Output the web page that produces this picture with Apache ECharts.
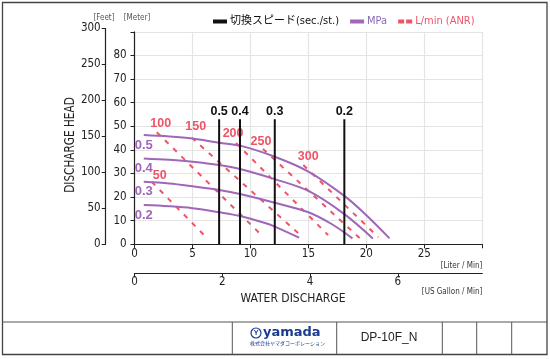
<!DOCTYPE html>
<html><head><meta charset="utf-8">
<script src="https://cdn.jsdelivr.net/npm/echarts@6/dist/echarts.min.js"></script>
<style>html,body{margin:0;padding:0;background:#fff}#c{width:550px;height:359px}</style>
</head><body><div id="c"></div>
<script>
// ---------- data ----------
const xTicksLiter = [0, 5, 10, 15, 20, 25];
const xTicksGallon = [0, 2, 4, 6];
const yTicksMeter = [0, 10, 20, 30, 40, 50, 60, 70, 80];
const yTicksFeet = [0, 50, 100, 150, 200, 250, 300];

const pressureLabels = ['0.5', '0.4', '0.3', '0.2'];
const curve05 = [[0.8,46.3],[3,45.7],[5,44.8],[7.3,43.0],[9.1,41.8],[12.1,37.1],[15,30.8],[18.1,20.5],[20,12.3],[22,2.5]];
const curve04 = [[0.8,36.4],[3,35.8],[5,35.0],[7.3,33.6],[9.1,31.9],[12.1,27.6],[15,22.6],[18.1,12.8],[20.55,2.5]];
const curve03 = [[0.8,26.5],[3,25.8],[5,24.6],[7.3,23.0],[9.1,21.3],[12.1,17.6],[15,13.6],[17,8.6],[18.8,2.5]];
const curve02 = [[0.8,16.6],[3,16.1],[5,15.3],[7.3,13.6],[9.1,12.0],[11.4,8.8],[12.1,7.5],[14.2,2.8]];

const switchLabels = ['0.5', '0.4', '0.3', '0.2'];
const switchFlow = [7.3, 9.1, 12.1, 18.1];
const switchTop = 53;

const airLabels = ['50', '100', '150', '200', '250', '300'];
const air50  = [[1.48,26.5],[6.08,3.5]];
const air100 = [[1.92,47.5],[11.1,3.2]];
const air150 = [[4.93,45.2],[14.47,3.2]];
const air200 = [[8.76,42.9],[16.7,3.9]];
const air250 = [[11.08,40.4],[19.45,2.5]];
const air300 = [[14.56,33.6],[21.03,3.0]];

// ---------- style ----------
const purple = '#a066b8';
const red = '#ee5468';
const ink = '#222';
const cond = "'DejaVu Sans Condensed','Noto Sans CJK JP',sans-serif";
const airLabelOffsets = [[8,-6],[4,-9],[4,-11],[-3,-10],[-2,-7],[5,-8]];

const series = [];
[curve05, curve04, curve03, curve02].forEach((c, i) => {
  series.push({
    type: 'line', name: 'MPa', smooth: 0.35, symbol: 'circle', symbolSize: 0, showSymbol: true,
    silent: true, z: 3,
    lineStyle: { color: purple, width: 2 }, itemStyle: { color: purple },
    label: { show: false },
    data: c.map((p, j) => j === 0 ? {
      value: p,
      label: { show: true, formatter: pressureLabels[i], position: 'inside', offset: [0, 10],
        color: purple, fontSize: 13, fontWeight: 'bold', fontFamily: 'Liberation Sans' }
    } : p)
  });
});
[air50, air100, air150, air200, air250, air300].forEach((a, i) => {
  series.push({
    type: 'line', name: 'L/min (ANR)', symbol: 'circle', symbolSize: 0, showSymbol: true,
    silent: true, z: 2,
    lineStyle: { color: red, width: 2, type: [5, 6.5] }, itemStyle: { color: red },
    label: { show: false },
    data: a.map((p, j) => j === 0 ? {
      value: p,
      label: { show: true, formatter: airLabels[i], position: 'inside', offset: airLabelOffsets[i],
        color: red, fontSize: 12.5, fontWeight: 'bold', fontFamily: 'Liberation Sans' }
    } : p)
  });
});
switchFlow.forEach((x, i) => {
  series.push({
    type: 'line', name: '切換スピード(sec./st.)', symbol: 'circle', symbolSize: 0, showSymbol: true,
    silent: true, z: 4,
    lineStyle: { color: '#111', width: 2 }, itemStyle: { color: '#111' },
    label: { show: false },
    data: [[x, 0], {
      value: [x, switchTop],
      label: { show: true, formatter: switchLabels[i], position: 'inside', offset: [0, -8],
        color: '#111', fontSize: 12.5, fontWeight: 'bold', fontFamily: 'Liberation Sans' }
    }]
  });
});

const chart = echarts.init(document.getElementById('c'), null, { renderer: 'canvas' });
const axisLabelBase = { color: ink, fontSize: 11.5, fontFamily: cond };
chart.setOption({
  animation: false,
  backgroundColor: '#fff',
  grid: [
    { left: 134.5, right: 67.7, top: 31.9, bottom: 114.7, containLabel: false, outerBoundsMode: 'none' },
    { left: 105.7, width: 10, top: 28.5, height: 215.8, containLabel: false, outerBoundsMode: 'none' }
  ],
  legend: {
    left: 208, top: 11, itemWidth: 14, itemHeight: 4, itemGap: 11,
    textStyle: { fontSize: 11, fontFamily: cond, padding: [0, 0, 0, -2] },
    selectedMode: false,
    data: [
      { name: '切換スピード(sec./st.)', icon: 'rect', itemStyle: { color: '#111' }, textStyle: { color: '#111' } },
      { name: 'MPa', icon: 'rect', itemStyle: { color: purple }, textStyle: { color: '#8a6bb5' } },
      { name: 'L/min (ANR)', icon: 'path://M0,0h6v4h-6z M8,0h6v4h-6z', itemStyle: { color: red }, textStyle: { color: red } }
    ]
  },
  xAxis: [
    { type: 'value', gridIndex: 0, min: 0, max: 30, interval: 5,
      axisLine: { show: true, lineStyle: { color: ink, width: 1.2 } },
      axisTick: { show: true, length: 4, lineStyle: { color: ink } },
      axisLabel: Object.assign({}, axisLabelBase, { margin: 4,
        formatter: v => xTicksLiter.includes(v) ? String(v) : '' }),
      splitLine: { show: true, lineStyle: { color: '#e4e4e4', width: 1.2 } } },
    { type: 'value', gridIndex: 1, min: 0, max: 1, show: false },
    { type: 'value', gridIndex: 0, position: 'bottom', offset: 29, min: 0, max: 30 / 3.78541, interval: 2,
      axisLine: { show: true, lineStyle: { color: ink, width: 1.2 } },
      axisTick: { show: true, length: 4, lineStyle: { color: ink } },
      axisLabel: Object.assign({}, axisLabelBase, { margin: 3, showMaxLabel: false,
        formatter: v => xTicksGallon.includes(v) ? String(v) : '' }),
      splitLine: { show: false } }
  ],
  yAxis: [
    { type: 'value', gridIndex: 0, min: 0, max: 90, interval: 10, offset: 2.8,
      axisLine: { show: true, lineStyle: { color: ink, width: 1.2 } },
      axisTick: { show: true, length: 4, lineStyle: { color: ink } },
      axisLabel: Object.assign({}, axisLabelBase, { margin: 5,
        formatter: v => yTicksMeter.includes(v) ? String(v) : '' }),
      splitLine: { show: true, lineStyle: { color: '#e4e4e4', width: 1.2 } } },
    { type: 'value', gridIndex: 1, min: 0, max: 300, interval: 50,
      axisLine: { show: true, lineStyle: { color: ink, width: 1.2 } },
      axisTick: { show: true, length: 4, lineStyle: { color: ink } },
      axisLabel: Object.assign({}, axisLabelBase, { margin: 5,
        formatter: v => yTicksFeet.includes(v) ? String(v) : '' }),
      splitLine: { show: false } }
  ],
  series: series.concat([{ type: 'line', xAxisIndex: 1, yAxisIndex: 1, data: [], silent: true }]),
  graphic: [
    { type: 'rect', shape: { x: 2.5, y: 2.5, width: 544.5, height: 352 }, style: { fill: 'none', stroke: '#444', lineWidth: 1.3 }, silent: true },
    { type: 'line', shape: { x1: 2.5, y1: 322, x2: 547, y2: 322 }, style: { stroke: '#555', lineWidth: 1.2 }, silent: true },
    { type: 'line', shape: { x1: 232.3, y1: 322, x2: 232.3, y2: 354.5 }, style: { stroke: '#555', lineWidth: 1 }, silent: true },
    { type: 'line', shape: { x1: 336.7, y1: 322, x2: 336.7, y2: 354.5 }, style: { stroke: '#555', lineWidth: 1 }, silent: true },
    { type: 'line', shape: { x1: 442.3, y1: 322, x2: 442.3, y2: 354.5 }, style: { stroke: '#555', lineWidth: 1 }, silent: true },
    { type: 'line', shape: { x1: 476.7, y1: 322, x2: 476.7, y2: 354.5 }, style: { stroke: '#555', lineWidth: 1 }, silent: true },
    { type: 'line', shape: { x1: 511.7, y1: 322, x2: 511.7, y2: 354.5 }, style: { stroke: '#555', lineWidth: 1 }, silent: true },
    { type: 'text', x: 389, y: 337.5, style: { text: 'DP-10F_N', fill: '#222', font: "12px 'Liberation Sans'", textAlign: 'center', textVerticalAlign: 'middle' }, silent: true },
    { type: 'circle', shape: { cx: 256, cy: 333, r: 5 }, style: { fill: 'none', stroke: '#1b3c8e', lineWidth: 1.2 }, silent: true },
    { type: 'text', x: 256, y: 333.5, style: { text: 'Y', fill: '#1b3c8e', font: "bold 7px 'Liberation Sans'", textAlign: 'center', textVerticalAlign: 'middle' }, silent: true },
    { type: 'text', x: 263, y: 333, style: { text: 'yamada', fill: '#1b3c8e', font: "bold 13px 'DejaVu Sans'", textAlign: 'left', textVerticalAlign: 'middle' }, silent: true },
    { type: 'text', x: 250, y: 343.5, style: { text: '株式会社ヤマダコーポレーション', fill: '#1b3c8e', font: "5px 'Noto Sans CJK JP'", textAlign: 'left', textVerticalAlign: 'middle' }, silent: true },
    { type: 'text', x: 104, y: 18, style: { text: '[Feet]', fill: '#555', font: "8px " + cond, textAlign: 'center', textVerticalAlign: 'middle' }, silent: true },
    { type: 'text', x: 137, y: 18, style: { text: '[Meter]', fill: '#555', font: "8px " + cond, textAlign: 'center', textVerticalAlign: 'middle' }, silent: true },
    { type: 'text', x: 70, y: 145, rotation: Math.PI / 2, scaleX: 0.865, style: { text: 'DISCHARGE HEAD', fill: '#222', font: "13.5px " + cond, textAlign: 'center', textVerticalAlign: 'middle' }, silent: true },
    { type: 'text', x: 482.3, y: 266, style: { text: '[Liter / Min]', fill: '#333', font: "8px " + cond, textAlign: 'right', textVerticalAlign: 'middle' }, silent: true },
    { type: 'text', x: 482.3, y: 292, style: { text: '[US Gallon / Min]', fill: '#333', font: "8px " + cond, textAlign: 'right', textVerticalAlign: 'middle' }, silent: true },
    { type: 'text', x: 293, y: 298.5, style: { text: 'WATER DISCHARGE', fill: '#222', font: "12px " + cond, textAlign: 'center', textVerticalAlign: 'middle' }, silent: true }
  ]
});
</script>
</body></html>
